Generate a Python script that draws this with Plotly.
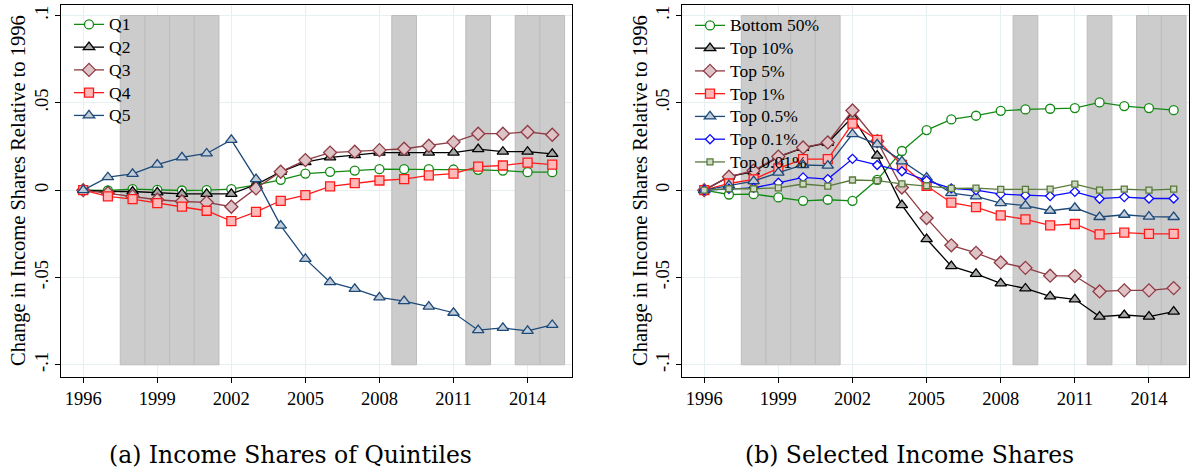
import plotly.graph_objects as go

years = list(range(1996, 2016))

# Panel (a): quintiles
q1 = [0, -0.0002, 0.0006, 0.0002, -0.0002, 0.0, 0.0006, 0.003, 0.0059, 0.0095, 0.0105, 0.0112, 0.012, 0.012, 0.012, 0.0118, 0.0116, 0.0112, 0.0103, 0.0103]
q2 = [0, -0.0008, -0.0008, -0.0013, -0.0021, -0.0021, -0.0021, 0.0032, 0.0105, 0.016, 0.0188, 0.02, 0.0215, 0.0215, 0.0215, 0.0215, 0.0235, 0.022, 0.022, 0.0208]
q3 = [0, -0.0017, -0.0036, -0.0055, -0.0065, -0.007, -0.0095, 0.001, 0.0105, 0.0172, 0.0215, 0.022, 0.0229, 0.0237, 0.0254, 0.0275, 0.0323, 0.0323, 0.0333, 0.0317]
q4 = [0, -0.0036, -0.0051, -0.0074, -0.0095, -0.0118, -0.0177, -0.0124, -0.0061, -0.0029, 0.0021, 0.004, 0.0055, 0.0063, 0.0084, 0.0095, 0.0135, 0.0141, 0.0158, 0.0146]
q5 = [0, 0.0074, 0.0093, 0.0146, 0.0188, 0.021, 0.0288, 0.0063, -0.0203, -0.0394, -0.0527, -0.0565, -0.0614, -0.0635, -0.0667, -0.0702, -0.0802, -0.0789, -0.0806, -0.0772]

# Panel (b): selected shares
bottom50 = [0, -0.0025, -0.0023, -0.0042, -0.0061, -0.0055, -0.0061, 0.0059, 0.0224, 0.0344, 0.0405, 0.0426, 0.0454, 0.0462, 0.0466, 0.047, 0.0502, 0.0481, 0.047, 0.0458]
top10 = [0, 0.0077, 0.0106, 0.019, 0.0242, 0.0271, 0.0419, 0.0198, -0.0086, -0.028, -0.0435, -0.0479, -0.0534, -0.0563, -0.0608, -0.0625, -0.0724, -0.0715, -0.0724, -0.0696]
top5 = [0, 0.0077, 0.0112, 0.0192, 0.0244, 0.0273, 0.0456, 0.028, 0.0015, -0.016, -0.0316, -0.0359, -0.0414, -0.0445, -0.049, -0.0492, -0.058, -0.0574, -0.0574, -0.0561]
top1 = [0, 0.0038, 0.0062, 0.0125, 0.0177, 0.0177, 0.0381, 0.0288, 0.0144, 0.0025, -0.0072, -0.0097, -0.0144, -0.0167, -0.0202, -0.0194, -0.0253, -0.0243, -0.0251, -0.0251]
top05 = [0, 0.0027, 0.0052, 0.01, 0.0144, 0.014, 0.0321, 0.0262, 0.0165, 0.0072, -0.0017, -0.0036, -0.0074, -0.0089, -0.0118, -0.0101, -0.0154, -0.0141, -0.0152, -0.0154]
top01 = [0, 0.0008, 0.0013, 0.0042, 0.0073, 0.0063, 0.0179, 0.0144, 0.0108, 0.0055, 0.001, 0.0, -0.0023, -0.0029, -0.0034, -0.001, -0.0049, -0.004, -0.0048, -0.0048]
top001 = [0, 0.0008, 0.0008, 0.0013, 0.0035, 0.0023, 0.0058, 0.0054, 0.0036, 0.0025, 0.001, 0.0011, 0.0004, 0.0004, 0.0006, 0.0034, 0.0, 0.0006, 0.0, 0.0006]

# Shaded years (each band spans year +/- 0.5)
shaded_years = [1998, 1999, 2000, 2001, 2009, 2012, 2014, 2015]

y_ticks = [-0.1, -0.05, 0, 0.05, 0.1]
y_tick_labels = ["-.1", "-.05", "0", ".05", ".1"]
x_ticks = [1996, 1999, 2002, 2005, 2008, 2011, 2014]

series_a = [
    ("Q1", q1, dict(color="#138a13", symbol="circle", fill="white", size=9)),
    ("Q2", q2, dict(color="#000000", symbol="triangle-up", fill="#a8a8a8", size=10)),
    ("Q3", q3, dict(color="#8f3b44", symbol="diamond", fill="#ddc3c6", size=10)),
    ("Q4", q4, dict(color="#ff1a1a", symbol="square", fill="#ffb8b8", size=9)),
    ("Q5", q5, dict(color="#1d4a78", symbol="triangle-up", fill="#c2ccd8", size=10)),
]
series_b = [
    ("Bottom 50%", bottom50, dict(color="#138a13", symbol="circle", fill="white", size=9)),
    ("Top 10%", top10, dict(color="#000000", symbol="triangle-up", fill="#a8a8a8", size=10)),
    ("Top 5%", top5, dict(color="#8f3b44", symbol="diamond", fill="#ddc3c6", size=10)),
    ("Top 1%", top1, dict(color="#ff1a1a", symbol="square", fill="#ffb8b8", size=9)),
    ("Top 0.5%", top05, dict(color="#1d4a78", symbol="triangle-up", fill="#c2ccd8", size=10)),
    ("Top 0.1%", top01, dict(color="#0a0aff", symbol="diamond", fill="white", size=7)),
    ("Top 0.01%", top001, dict(color="#587a3a", symbol="square", fill="#cfd8c4", size=6)),
]

fig = go.Figure()

def add_series(series, xa, ya, legend):
    for name, vals, st in series:
        fig.add_trace(go.Scatter(
            x=years, y=vals, name="<span style='font-size:17.5px'>" + name + "</span>",
            mode="lines+markers", xaxis=xa, yaxis=ya, legend=legend,
            line=dict(color=st["color"], width=1.3),
            marker=dict(symbol=st["symbol"], size=st["size"], color=st["fill"],
                        line=dict(color=st["color"], width=1.3)),
        ))

add_series(series_a, "x", "y", "legend")
add_series(series_b, "x2", "y2", "legend2")

shapes = []
for xr, yr in [("x", "y"), ("x2", "y2")]:
    for yv in shaded_years:
        shapes.append(dict(type="rect", xref=xr, yref=yr, x0=yv - 0.5, x1=yv + 0.5,
                           y0=-0.1, y1=0.1, fillcolor="#cccccc",
                           line=dict(color="#bdbdbd", width=1), layer="between"))
fig.update_layout(shapes=shapes)

W, H = 1190, 472
serif = "Liberation Serif"
y0d, y1d = (H - 377) / H, (H - 5) / H
axis_common = dict(showline=True, linecolor="black", linewidth=1.2, mirror=True,
                   showgrid=True, gridcolor="#e6eff1", gridwidth=1, zeroline=False,
                   ticks="outside", ticklen=5, tickcolor="black",
                   tickfont=dict(family=serif, size=18.5, color="black"))

legend_font = dict(family=serif, size=15.2, color="black")
fig.update_layout(
    width=W, height=H,
    margin=dict(l=0, r=0, t=0, b=0),
    paper_bgcolor="white", plot_bgcolor="white",
    showlegend=True,
    xaxis=dict(domain=[61 / W, 572 / W], range=[1995.1, 2015.8], tickvals=x_ticks, anchor="y", **axis_common),
    yaxis=dict(domain=[y0d, y1d], range=[-0.107, 0.106], tickvals=y_ticks, ticktext=y_tick_labels,
               tickangle=-90, anchor="x", **axis_common),
    xaxis2=dict(domain=[682 / W, 1189 / W], range=[1995.1, 2015.62], tickvals=x_ticks, anchor="y2", **axis_common),
    yaxis2=dict(domain=[y0d, y1d], range=[-0.107, 0.106], tickvals=y_ticks, ticktext=y_tick_labels,
                tickangle=-90, anchor="x2", **axis_common),
    legend=dict(x=69 / W, y=(H - 8) / H, xanchor="left", yanchor="top",
                bgcolor="rgba(0,0,0,0)", font=legend_font, tracegroupgap=0, itemwidth=30),
    legend2=dict(x=690 / W, y=(H - 9) / H, xanchor="left", yanchor="top",
                 bgcolor="rgba(0,0,0,0)", font=legend_font, tracegroupgap=0, itemwidth=30),
)

annos = [
    dict(text="Change in Income Shares Relative to 1996", x=18 / W, y=(H - 191) / H, textangle=-90),
    dict(text="Change in Income Shares Relative to 1996", x=640 / W, y=(H - 191) / H, textangle=-90),
    dict(text="(a) Income Shares of Quintiles", x=290 / W, y=(H - 455) / H,
         font=dict(family="DejaVu Serif", size=23.5, color="black")),
    dict(text="(b) Selected Income Shares", x=910 / W, y=(H - 455) / H,
         font=dict(family="DejaVu Serif", size=23.5, color="black")),
]
for a in annos:
    d = dict(xref="paper", yref="paper", showarrow=False, xanchor="center", yanchor="middle",
             font=dict(family=serif, size=20.5, color="black"))
    d.update(a)
    fig.add_annotation(**d)

fig.write_html("out.html", config={"displayModeBar": False},
               post_script="document.body.style.margin='0';document.body.style.overflow='hidden';")
